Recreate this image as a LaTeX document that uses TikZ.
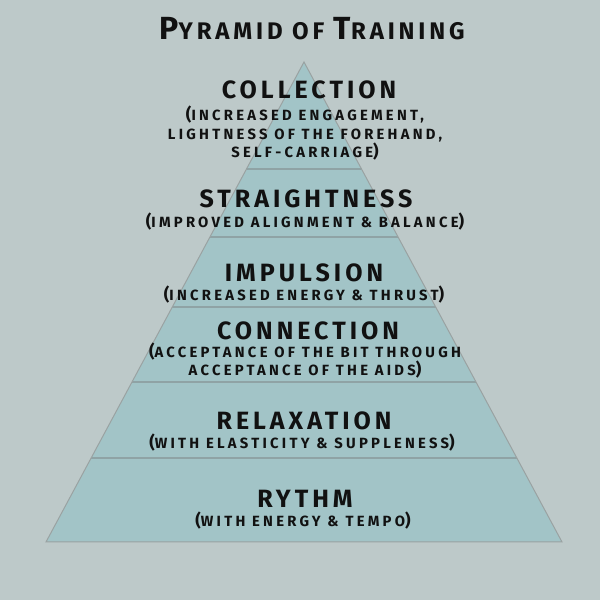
\documentclass[tikz,border=0pt]{standalone}
\usepackage{fontspec}
\newfontfamily\pyrfont[LetterSpace=16]{Fira Sans}
\newfontfamily\subfont[LetterSpace=22]{Fira Sans}
\usetikzlibrary{calc,positioning}
\definecolor{bgcol}{HTML}{BDC9C9}
\definecolor{pyrcol}{HTML}{A2C4C7}
\definecolor{edgecol}{HTML}{9AA2A2}
\definecolor{tiercol}{HTML}{8FA3A5}
\definecolor{inkcol}{HTML}{111111}
\newcommand\lpar{{\fontsize{17}{17}\selectfont(}}
\newcommand\rpar{{\fontsize{17}{17}\selectfont)}}
\newcommand\titlecap[1]{{\fontsize{32}{30}\selectfont #1}}
\tikzset{
  heading/.style={
    inner sep=0pt,
    anchor=base,
    text=inkcol,
    font=\pyrfont\bfseries\fontsize{25}{28}\selectfont},
  subline/.style={
    inner sep=0pt,
    anchor=base,
    align=center,
    text=inkcol,
    font=\subfont\bfseries\fontsize{14.8}{18.5}\selectfont},
  titletext/.style={
    inner sep=0pt,
    anchor=base,
    text=inkcol,
    font=\pyrfont\bfseries\fontsize{24}{30}\selectfont},
  tier/.style={draw=tiercol, line width=1.3pt},
}

\begin{document}
\begin{tikzpicture}[x=1pt,y=1pt]
  \fill[bgcol] (0,0) rectangle (600,600);
  \useasboundingbox (0,0) rectangle (600,600);
  % pyramid and its tiers
  \coordinate (top) at (304,538);
  \coordinate (bl) at (46,58);
  \coordinate (br) at (562,58);
  \fill[pyrcol] (top) -- (bl) -- (br) -- cycle;
  \foreach \t in {0.2229,0.3646,0.5104,0.6667,0.825}
    \draw[tier] ($(top)!\t!(bl)$) -- ($(top)!\t!(br)$);
  \draw[edgecol, line width=1pt, line join=miter] (top) -- (bl) -- (br) -- cycle;

  \node[titletext] (title) at (312,560) {\titlecap{P}YRAMID OF \titlecap{T}RAINING};

  \node[heading] (coll) at (309,501) {COLLECTION};
  \node[subline] (collsub) at (305,442)
    {\lpar INCREASED ENGAGEMENT,\\ LIGHTNESS OF THE FOREHAND,\\ SELF-CARRIAGE\rpar};
  \node[heading] (straight) at (306,392) {STRAIGHTNESS};
  \node[subline] (straightsub) at (305,372) {\lpar IMPROVED ALIGNMENT \& BALANCE\rpar};
  \node[heading] (impul) at (304,318) {IMPULSION};
  \node[subline] (impulsub) at (304,299) {\lpar INCREASED ENERGY \& THRUST\rpar};
  \node[heading] (conn) at (308,260) {CONNECTION};
  \node[subline, font=\subfont\bfseries\fontsize{14.8}{17}\selectfont] (connsub) at (305,224)
    {\lpar ACCEPTANCE OF THE BIT THROUGH\\ ACCEPTANCE OF THE AIDS\rpar};
  \node[heading] (relax) at (304,170) {RELAXATION};
  \node[subline] (relaxsub) at (302,151) {\lpar WITH ELASTICITY \& SUPPLENESS\rpar};
  \node[heading] (rythm) at (305,92) {RYTHM};
  \node[subline] (rythmsub) at (303,73) {\lpar WITH ENERGY \& TEMPO\rpar};
\end{tikzpicture}
\end{document}
